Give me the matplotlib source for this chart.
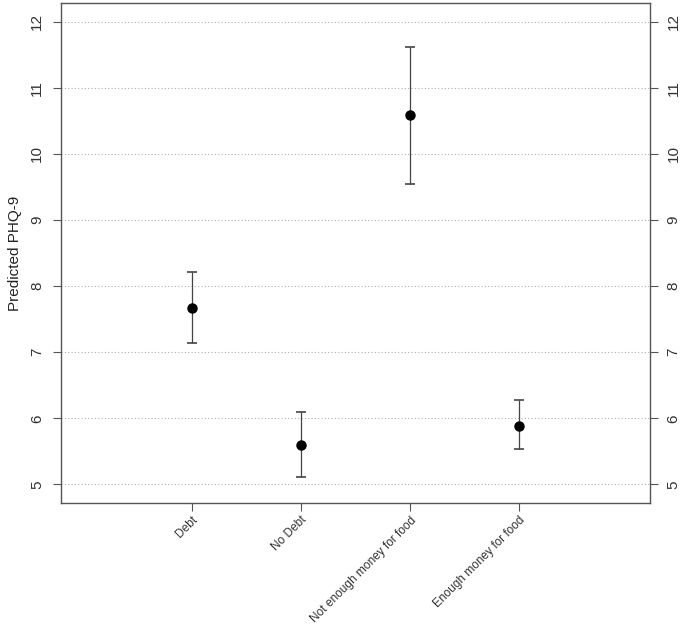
import matplotlib
matplotlib.use("Agg")
import matplotlib.pyplot as plt

plt.rcParams['font.family'] = ['Liberation Sans', 'DejaVu Sans']

groups = ['Debt', 'No Debt', 'Not enough money for food', 'Enough money for food']
predicted = [7.67, 5.59, 10.58, 5.89]
lower = [7.14, 5.12, 9.55, 5.54]
upper = [8.22, 6.09, 11.62, 6.28]
y_ticks = [5, 6, 7, 8, 9, 10, 11, 12]

fig = plt.figure(figsize=(6.83, 6.25), dpi=100)
ax = fig.add_axes([61 / 683, 122 / 625, 589 / 683, 500 / 625])

x = list(range(1, len(groups) + 1))
err_lo = [p - l for p, l in zip(predicted, lower)]
err_hi = [u - p for p, u in zip(predicted, upper)]

for t in y_ticks:
    ax.axhline(t, color='#b0b0b0', linestyle=(0, (1, 2)), linewidth=0.8, zorder=0)

ax.errorbar(x, predicted, yerr=[err_lo, err_hi], fmt='o', color='black',
            ecolor='#444444', elinewidth=0.9, capsize=3.5, capthick=1.2,
            markersize=6.5, zorder=3)

ax.set_xlim(-0.2, 5.2)
ax.set_ylim(4.72, 12.28)
ax.set_xticks(x)
ax.set_xticklabels(groups, rotation=45, ha='right', va='top',
                   rotation_mode='anchor', fontsize=8.6, color='#333333')
ax.set_yticks(y_ticks)
ax.set_yticklabels([str(t) for t in y_ticks], rotation=90, va='center',
                   fontsize=11, color='#333333')
ax.tick_params(axis='y', which='both', left=True, right=True,
               labelleft=True, labelright=True, length=6, color='#555555', pad=6)
ax.tick_params(axis='x', length=6, color='#555555', pad=2)
for lab in ax.get_yticklabels(which='both'):
    lab.set_rotation(90)
for sp in ax.spines.values():
    sp.set_color('#555555')
    sp.set_linewidth(1.0)

ax.set_ylabel('Predicted PHQ-9', fontsize=11, color='#222222', labelpad=6)

fig.savefig('out.png', dpi=100)
